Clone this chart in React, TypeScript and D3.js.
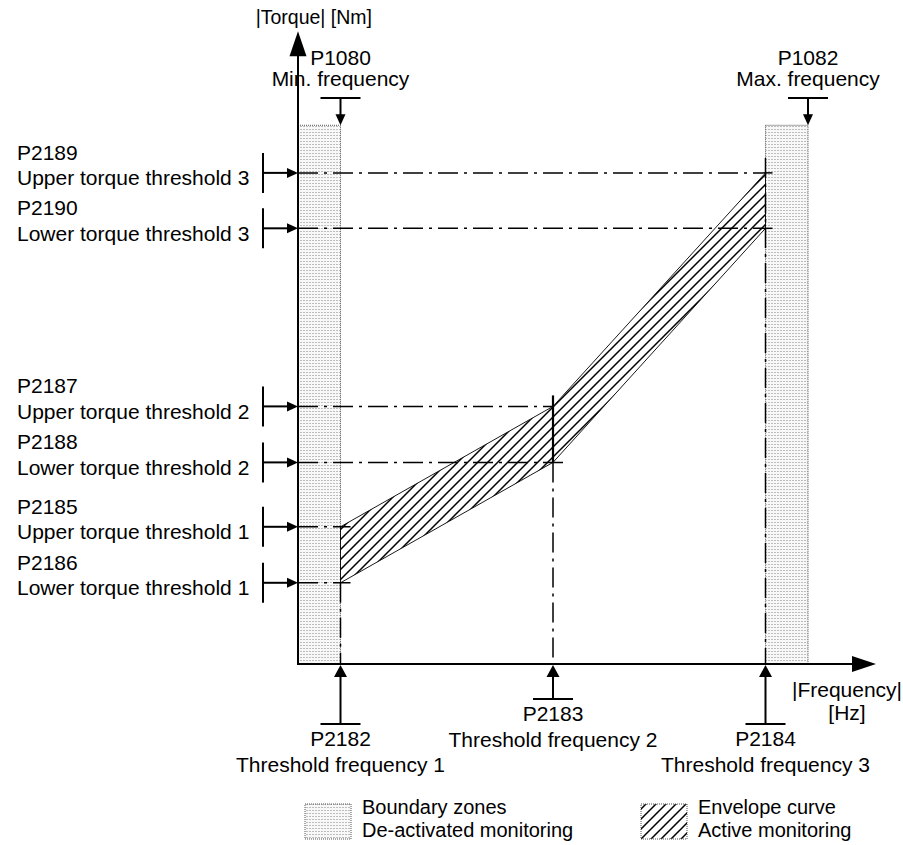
import React from 'react';
import * as d3 from 'd3';

// ---- data (schematic values) ----
const thresholdFreqs = [5, 30, 55];
const freqCodes = ['P2182', 'P2183', 'P2184'];
const freqNames = ['Threshold frequency 1', 'Threshold frequency 2', 'Threshold frequency 3'];
const upperTorque = [24.5, 46, 87.7];
const lowerTorque = [14.5, 36, 77.8];
const upperCodes = ['P2185', 'P2187', 'P2189'];
const upperNames = ['Upper torque threshold 1', 'Upper torque threshold 2', 'Upper torque threshold 3'];
const lowerCodes = ['P2186', 'P2188', 'P2190'];
const lowerNames = ['Lower torque threshold 1', 'Lower torque threshold 2', 'Lower torque threshold 3'];
const limitFreqs = [5, 60];
const limitCodes = ['P1080', 'P1082'];
const limitNames = ['Min. frequency', 'Max. frequency'];
const zoneTopTorque = 96.2;
const freqAxisMax = 68;
const torqueAxisMax = 113;
const legendLabels = [
  ['Boundary zones', 'De-activated monitoring'],
  ['Envelope curve', 'Active monitoring'],
];

const W = 903;
const H = 845;
const FONT = '"Liberation Sans", Arial, Helvetica, sans-serif';
const FS = 21;

const x = d3.scaleLinear().domain([0, freqAxisMax]).range([298, 876]);
const y = d3.scaleLinear().domain([0, torqueAxisMax]).range([664, 31.2]);

const DASH = '20 6 3 6';

function head(tx: number, ty: number, dir: 'up' | 'down' | 'left' | 'right', len: number, half: number) {
  let pts: number[][];
  if (dir === 'right') pts = [[tx, ty], [tx - len, ty - half], [tx - len, ty + half]];
  else if (dir === 'left') pts = [[tx, ty], [tx + len, ty - half], [tx + len, ty + half]];
  else if (dir === 'up') pts = [[tx, ty], [tx - half, ty + len], [tx + half, ty + len]];
  else pts = [[tx, ty], [tx - half, ty - len], [tx + half, ty - len]];
  return <polygon points={pts.map((p) => p.join(',')).join(' ')} fill="#000" />;
}

export default function App() {
  const x0 = x(0);
  const y0 = y(0);
  const zoneTop = y(zoneTopTorque);

  const envPts: [number, number][] = [
    ...thresholdFreqs.map((f, i) => [x(f), y(upperTorque[i])] as [number, number]),
    ...thresholdFreqs.map((f, i) => [x(f), y(lowerTorque[i])] as [number, number]).reverse(),
  ];
  const envPath = d3.line()(envPts) + 'Z';

  const leftZone = { x1: x0, x2: x(limitFreqs[0]) };
  const rightZone = { x1: x(thresholdFreqs[2]), x2: x(limitFreqs[1]) };

  const upperEnds = [x(thresholdFreqs[0]) + 10, x(thresholdFreqs[1]), x(thresholdFreqs[2]) + 7];
  const lowerEnds = [x(thresholdFreqs[0]) + 10, x(thresholdFreqs[1]) + 11, x(thresholdFreqs[2]) + 7];
  const vTops = [y(lowerTorque[0]), y(lowerTorque[1]), y(upperTorque[2]) - 15];
  const markerDrop = [60, 35, 60];

  const leftLabels = [
    ...upperTorque.map((t, i) => ({ t, code: upperCodes[i], name: upperNames[i] })),
    ...lowerTorque.map((t, i) => ({ t, code: lowerCodes[i], name: lowerNames[i] })),
  ];

  return (
    <svg width={W} height={H} style={{ position: 'absolute', left: 0, top: 0, background: '#fff' }}
      fontFamily={FONT} fontSize={FS}>
      <defs>
        <pattern id="dots" width={3} height={3} patternUnits="userSpaceOnUse">
          <rect width={3} height={3} fill="#f8f8f8" />
          <rect x={0} y={0} width={2} height={1} fill="#bdbdbd" />
        </pattern>
        <pattern id="hatch" width={10} height={10} patternUnits="userSpaceOnUse">
          <path d="M-1,1 l2,-2 M0,10 l10,-10 M9,11 l2,-2" stroke="#000" strokeWidth={1.5} />
        </pattern>
      </defs>
      <rect width={W} height={H} fill="#fff" />

      {/* boundary zones */}
      {[leftZone, rightZone].map((z, i) => (
        <rect key={i} x={z.x1} y={zoneTop} width={z.x2 - z.x1} height={y0 - zoneTop}
          fill="url(#dots)" stroke="#555" strokeWidth={1} strokeDasharray="1 1" />
      ))}

      {/* horizontal dash-dot threshold lines */}
      {upperTorque.map((t, i) => (
        <line key={'u' + i} x1={x0} x2={upperEnds[i]} y1={y(t)} y2={y(t)} stroke="#000" strokeWidth={1.5} strokeDasharray={DASH} />
      ))}
      {lowerTorque.map((t, i) => (
        <line key={'l' + i} x1={x0} x2={lowerEnds[i]} y1={y(t)} y2={y(t)} stroke="#000" strokeWidth={1.5} strokeDasharray={DASH} />
      ))}

      {/* vertical dash-dot frequency lines */}
      {thresholdFreqs.map((f, i) => (
        <line key={'v' + i} x1={x(f)} x2={x(f)} y1={vTops[i]} y2={y0} stroke="#000" strokeWidth={1.5} strokeDasharray={DASH} />
      ))}

      {/* envelope */}
      <path d={envPath} fill="url(#hatch)" stroke="#000" strokeWidth={0.9} />
      <line x1={x(thresholdFreqs[1])} x2={x(thresholdFreqs[1])} y1={y(upperTorque[1]) - 11} y2={y(lowerTorque[1])}
        stroke="#000" strokeWidth={2.2} />

      {/* axes */}
      <line x1={x0} x2={x0} y1={y0 + 1} y2={y(torqueAxisMax) + 24} stroke="#000" strokeWidth={2} />
      {head(x0, y(torqueAxisMax), 'up', 25, 8.5)}
      <line x1={x0 - 1} x2={x(freqAxisMax) - 24} y1={y0} y2={y0} stroke="#000" strokeWidth={2} />
      {head(x(freqAxisMax), y0, 'right', 24, 8)}
      <text x={372} y={24} textAnchor="end" fontSize={19.5}>|Torque| [Nm]</text>
      <text x={847} y={697} textAnchor="middle">|Frequency|</text>
      <text x={847} y={720} textAnchor="middle">[Hz]</text>

      {/* left threshold labels */}
      {leftLabels.map((d, i) => {
        const yy = y(d.t);
        return (
          <g key={'ll' + i}>
            <line x1={263} x2={263} y1={yy - 20} y2={yy + 20} stroke="#000" strokeWidth={2} />
            <line x1={263} x2={x0 - 8} y1={yy} y2={yy} stroke="#000" strokeWidth={2} />
            {head(x0, yy, 'right', 11, 5)}
            <text x={17} y={yy - 13}>{d.code}</text>
            <text x={17} y={yy + 12.5}>{d.name}</text>
          </g>
        );
      })}

      {/* top limit markers */}
      {limitFreqs.map((f, i) => {
        const xx = x(f);
        return (
          <g key={'tm' + i}>
            <line x1={xx - 20} x2={xx + 20} y1={98} y2={98} stroke="#000" strokeWidth={2} />
            <line x1={xx} x2={xx} y1={98} y2={zoneTop - 8} stroke="#000" strokeWidth={2} />
            {head(xx, zoneTop, 'down', 11, 5)}
            <text x={xx} y={65} textAnchor="middle">{limitCodes[i]}</text>
            <text x={xx} y={86} textAnchor="middle">{limitNames[i]}</text>
          </g>
        );
      })}

      {/* bottom frequency markers */}
      {thresholdFreqs.map((f, i) => {
        const xx = x(f);
        const by = y0 + markerDrop[i];
        return (
          <g key={'bm' + i}>
            <line x1={xx - 20} x2={xx + 20} y1={by} y2={by} stroke="#000" strokeWidth={2} />
            <line x1={xx} x2={xx} y1={by} y2={y0 + 10} stroke="#000" strokeWidth={2} />
            {head(xx, y0 + 1, 'up', 12, 6.5)}
            <text x={xx} y={by + 22} textAnchor="middle">{freqCodes[i]}</text>
            <text x={xx} y={by + 48} textAnchor="middle">{freqNames[i]}</text>
          </g>
        );
      })}

      {/* legend */}
      <rect x={305} y={804} width={46} height={35} fill="url(#dots)" stroke="#555" strokeWidth={1} strokeDasharray="1 1" />
      <rect x={641} y={804} width={46} height={35} fill="url(#hatch)" stroke="#555" strokeWidth={1} strokeDasharray="1 1" />
      <g fontSize={20}>
        <text x={362} y={814}>{legendLabels[0][0]}</text>
        <text x={362} y={837}>{legendLabels[0][1]}</text>
        <text x={698} y={814}>{legendLabels[1][0]}</text>
        <text x={698} y={837}>{legendLabels[1][1]}</text>
      </g>
    </svg>
  );
}
